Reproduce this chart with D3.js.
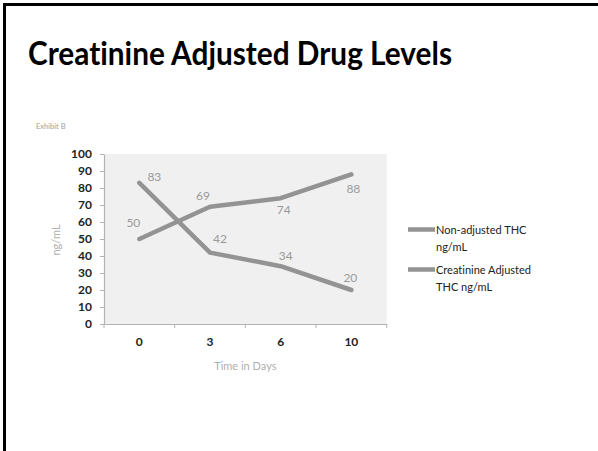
<!DOCTYPE html>
<html>
<head>
<meta charset="utf-8">
<script src="https://cdn.jsdelivr.net/npm/d3@7"></script>
<style>
  html, body { margin: 0; padding: 0; background: #fff; }
  svg { display: block; }
  text { font-variant-ligatures: none; font-feature-settings: "liga" 0; }
</style>
</head>
<body>
<svg id="chart" width="598" height="451"></svg>
<script>
// Drug level data over time
const days = ["0", "3", "6", "10"];
const nonAdjusted = [50, 69, 74, 88];
const creatinineAdjusted = [83, 42, 34, 20];
const seriesNames = ["Non-adjusted THC ng/mL", "Creatinine Adjusted THC ng/mL"];
const yTicks = [0, 10, 20, 30, 40, 50, 60, 70, 80, 90, 100];

// Per-point label nudges (dx, dy) relative to each point
const labelNudges = [
  [[-6, -16], [-7, -11], [3, 12], [2, 14]],
  [[15, -6], [10, -14], [5, -10], [-1, -12]]
];

const svg = d3.select("#chart");
const font = "Lato, 'Open Sans', sans-serif";

// Slide frame (left and top edges)
svg.append("path")
  .attr("d", "M4.5,451 L4.5,4.5 L598,4.5")
  .attr("fill", "none")
  .attr("stroke", "#000")
  .attr("stroke-width", 3);

// Slide title
svg.append("text")
  .attr("x", 28).attr("y", 65)
  .attr("font-family", font)
  .attr("font-weight", 700)
  .attr("font-size", 31.5)
  .attr("textLength", 424)
  .attr("lengthAdjust", "spacingAndGlyphs")
  .attr("fill", "#000")
  .text("Creatinine Adjusted Drug Levels");

svg.append("text")
  .attr("x", 36).attr("y", 129)
  .attr("font-family", font)
  .attr("font-size", 7.5)
  .attr("fill", "#a0a0a0")
  .text("Exhibit B");

const plot = { left: 104, right: 386.7, top: 154, bottom: 324 };

const x = d3.scaleBand().domain(days).range([plot.left, plot.right]).padding(0);
const y = d3.scaleLinear().domain([0, 100]).range([plot.bottom, plot.top]);
const cx = d => x(d) + x.bandwidth() / 2;

// Plot background
svg.append("rect")
  .attr("x", plot.left).attr("y", y(100))
  .attr("width", plot.right - plot.left)
  .attr("height", y(0) - y(100))
  .attr("fill", "#f0f0f0");

// Y axis
const yAxis = svg.append("g")
  .attr("transform", `translate(${plot.left},0)`)
  .call(d3.axisLeft(y).tickValues(yTicks).tickSize(4).tickPadding(8).tickSizeOuter(0));
yAxis.select(".domain").attr("stroke", "#b3b3b3").attr("stroke-width", 1.2);
yAxis.selectAll(".tick line").attr("stroke", "#b3b3b3");
yAxis.selectAll(".tick text")
  .attr("font-family", font).attr("font-size", 12).attr("font-weight", 700)
  .attr("fill", "#222");

// X axis with ticks on category boundaries
const xAxis = svg.append("g")
  .attr("transform", `translate(0,${plot.bottom})`)
  .call(d3.axisBottom(x).tickSize(0).tickPadding(13).tickSizeOuter(0));
xAxis.select(".domain").attr("stroke", "#b3b3b3").attr("stroke-width", 1.2);
xAxis.selectAll(".tick text")
  .attr("font-family", font).attr("font-size", 12).attr("font-weight", 700)
  .attr("fill", "#222");
const boundaries = days.map(d => x(d)).concat([x(days[days.length - 1]) + x.bandwidth()]);
xAxis.selectAll(".bound")
  .data(boundaries)
  .join("line")
  .attr("class", "bound")
  .attr("x1", d => d).attr("x2", d => d)
  .attr("y1", 0).attr("y2", 4)
  .attr("stroke", "#b3b3b3");

// Axis titles
svg.append("text")
  .attr("transform", `translate(60,240) rotate(-90)`)
  .attr("text-anchor", "middle")
  .attr("font-family", font).attr("font-size", 11)
  .attr("fill", "#b0b0b0")
  .text("ng/mL");

svg.append("text")
  .attr("x", (plot.left + plot.right) / 2).attr("y", 370)
  .attr("text-anchor", "middle")
  .attr("font-family", font).attr("font-size", 11)
  .attr("fill", "#b0b0b0")
  .text("Time in Days");

// Lines
const allSeries = [nonAdjusted, creatinineAdjusted];
const lineGen = d3.line().x((v, i) => cx(days[i])).y(v => y(v));
const lineColor = "#939393";

allSeries.forEach((vals, s) => {
  svg.append("path")
    .datum(vals)
    .attr("d", lineGen)
    .attr("fill", "none")
    .attr("stroke", lineColor)
    .attr("stroke-width", 4.5)
    .attr("stroke-linecap", "round")
    .attr("stroke-linejoin", "round");

  svg.selectAll(null)
    .data(vals)
    .join("text")
    .attr("x", (v, i) => cx(days[i]) + labelNudges[s][i][0])
    .attr("y", (v, i) => y(v) + labelNudges[s][i][1])
    .attr("dy", "0.35em")
    .attr("text-anchor", "middle")
    .attr("font-family", font).attr("font-size", 12)
    .attr("fill", "#9a9a9a")
    .text(v => v);
});

// Legend
const legendRows = [["Non-adjusted THC", "ng/mL"], ["Creatinine Adjusted", "THC ng/mL"]];
legendRows.forEach((rows, s) => {
  const ly = 229.5 + s * 40;
  svg.append("line")
    .attr("x1", 408).attr("x2", 435)
    .attr("y1", ly).attr("y2", ly)
    .attr("stroke", lineColor).attr("stroke-width", 4.5);
  rows.forEach((t, k) => {
    svg.append("text")
      .attr("x", 436).attr("y", ly + 4 + k * 17)
      .attr("font-family", font).attr("font-size", 11)
      .attr("fill", "#222")
      .text(t);
  });
});
</script>
</body>
</html>
